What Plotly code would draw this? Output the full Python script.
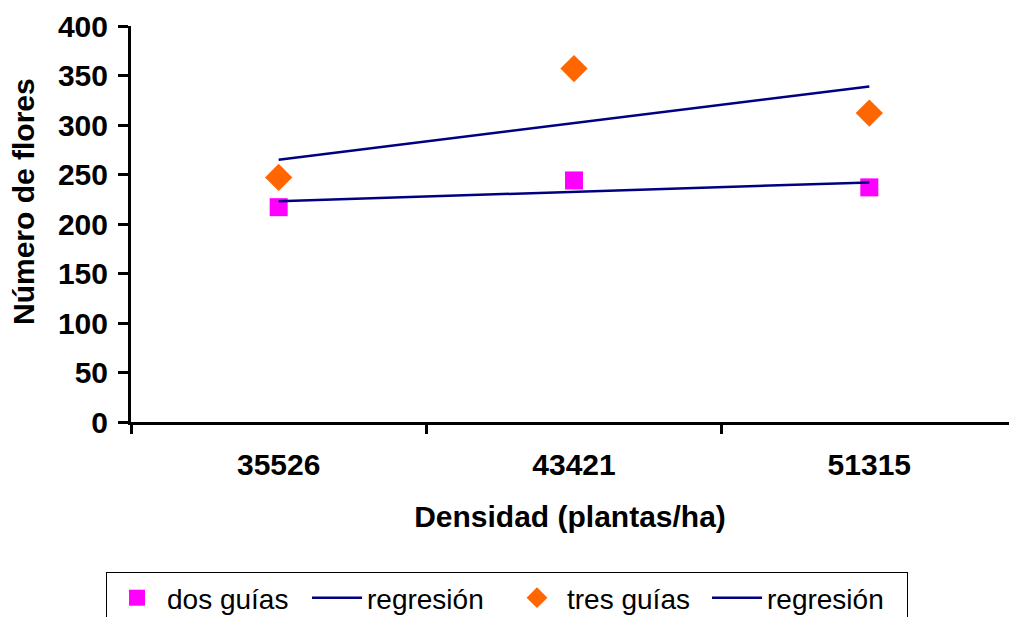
import plotly.graph_objects as go

categories = ["35526", "43421", "51315"]
dos_guias = [217, 244, 237]
tres_guias = [247, 357, 312]
reg_dos = [223, 232.5, 242]
reg_tres = [265, 302, 339]
y_ticks = [0, 50, 100, 150, 200, 250, 300, 350, 400]

FONT = "Liberation Sans, Arial, sans-serif"
NAVY = "#000080"

fig = go.Figure()
fig.add_trace(go.Scatter(x=categories, y=dos_guias, mode="markers", name="dos guías",
                         marker=dict(symbol="square", size=18, color="#FF00FF")))
fig.add_trace(go.Scatter(x=categories, y=reg_dos, mode="lines", name="regresión",
                         line=dict(color=NAVY, width=2.5)))
fig.add_trace(go.Scatter(x=categories, y=tres_guias, mode="markers", name="tres guías",
                         marker=dict(symbol="diamond", size=21, color="#FF6600")))
fig.add_trace(go.Scatter(x=categories, y=reg_tres, mode="lines", name="regresión",
                         line=dict(color=NAVY, width=2.5)))

fig.add_annotation(text="Número de flores", xref="paper", yref="paper",
                   x=(23 - 131) / 878, y=(422 - 202) / 396, textangle=-90,
                   showarrow=False, xanchor="center", yanchor="middle",
                   font=dict(size=30, family=FONT, weight="bold", color="black"))

fig.update_layout(
    width=1009, height=617,
    margin=dict(l=131, r=0, t=26, b=195),
    plot_bgcolor="white", paper_bgcolor="white",
    font=dict(family=FONT, color="black"),
    showlegend=True,
    legend=dict(orientation="h", xref="container", yref="container",
                x=106/1009, y=1-572/617, xanchor="left", yanchor="top",
                bordercolor="black", borderwidth=1,
                font=dict(size=28, family=FONT),
                itemwidth=50,
                entrywidth=135, entrywidthmode="pixels",
                tracegroupgap=0),
    xaxis=dict(type="category", range=[-0.5, 2.473], showline=True, linecolor="black",
               linewidth=3, ticks="outside", tickson="boundaries", ticklen=9,
               tickwidth=3, tickcolor="black", showgrid=False, zeroline=False,
               automargin=False, ticklabelstandoff=14,
               tickfont=dict(size=30, family=FONT, weight="bold"),
               title=dict(text="Densidad (plantas/ha)", standoff=26,
                          font=dict(size=30, family=FONT, weight="bold"))),
    yaxis=dict(range=[0, 400], tickvals=y_ticks, showline=True, linecolor="black",
               linewidth=3, ticks="outside", ticklen=10, tickwidth=3, tickcolor="black",
               showgrid=False, zeroline=False, automargin=False, ticklabelstandoff=4,
               tickfont=dict(size=30, family=FONT, weight="bold")),
)

fig.write_html("out.html")
